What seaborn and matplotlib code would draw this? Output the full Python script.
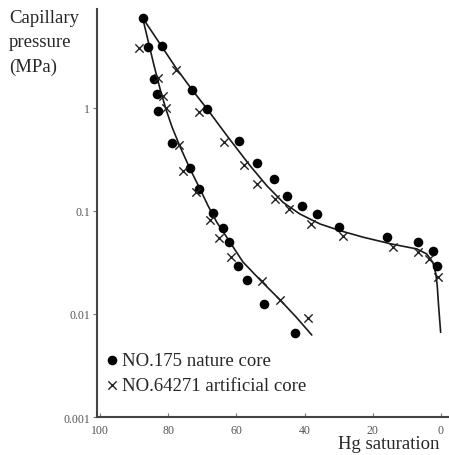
import numpy as np
import pandas as pd
import matplotlib
matplotlib.use("Agg")
import matplotlib.pyplot as plt
from matplotlib.ticker import NullLocator, FixedLocator
import seaborn as sns

# measured points, NO.175 nature core (filled dots)
nature_sat = [87.5, 85.9, 84.3, 83.2, 82.9, 81.9, 73.1, 68.5, 79.0, 73.6, 70.9, 67.0,
              63.8, 62.3, 59.5, 57.0, 51.8, 42.8, 59.2, 54.1, 48.9, 45.1, 40.8, 36.5,
              29.8, 15.9, 6.8, 2.3, 1.1]
nature_pc = [7.5, 3.9, 1.9, 1.37, 0.93, 4.0, 1.5, 0.98, 0.457, 0.26, 0.164, 0.095,
             0.069, 0.050, 0.029, 0.0215, 0.0125, 0.00654, 0.48, 0.29, 0.205, 0.141, 0.111, 0.094,
             0.0695, 0.0556, 0.0503, 0.041, 0.0295]

# measured points, NO.64271 artificial core (crosses)
artificial_sat = [88.5, 83.1, 81.5, 80.6, 77.7, 70.9, 76.9, 75.8, 71.9, 67.8, 65.2, 61.6,
                  52.6, 47.2, 38.9, 63.6, 57.8, 54.1, 48.7, 44.5, 38.1, 28.8, 14.2, 6.8,
                  3.4, 0.8]
artificial_pc = [3.8, 1.94, 1.32, 0.99, 2.34, 0.92, 0.44, 0.243, 0.152, 0.082, 0.055, 0.036,
                 0.021, 0.0138, 0.0091, 0.47, 0.28, 0.183, 0.131, 0.105, 0.075, 0.0576, 0.045, 0.040,
                 0.034, 0.0227]

# hand-fitted curves
lower_sat = [87.5, 85.9, 84.2, 82.4, 80.7, 78.9, 76.5, 73.6, 70.7, 68.3, 65.8, 62.5,
             58.1, 52.5, 47.2, 42.5, 37.9]
lower_pc = [7.48, 4.47, 2.61, 1.53, 0.978, 0.654, 0.418, 0.256, 0.164, 0.112, 0.0782, 0.0535,
            0.032, 0.0205, 0.0137, 0.00935, 0.00625]
upper_sat = [87.5, 82.4, 77.7, 73.0, 68.6, 62.5, 56.0, 51.1, 46.3, 41.4, 35.5, 29.6,
             22.8, 14.5, 7.1, 4.2, 2.4, 1.5, 1.1, 0.7, 0.1]
upper_pc = [7.48, 4.18, 2.44, 1.50, 0.978, 0.523, 0.275, 0.176, 0.121, 0.0935, 0.0748, 0.0644,
            0.0556, 0.0478, 0.0428, 0.0383, 0.0318, 0.0245, 0.0188, 0.0120, 0.00664]

y_ticks = [1, 0.1, 0.01, 0.001]
y_tick_labels = ["1", "0.1", "0.01", "0.001"]
x_ticks = [100, 80, 60, 40, 20, 0]
x_tick_labels = ["100", "80", "60", "40", "20", "0"]

sns.set_style("ticks")
plt.rcParams["font.family"] = ["Liberation Serif", "DejaVu Serif"]

fig = plt.figure(figsize=(4.49, 4.56), dpi=100)
ax = fig.add_axes([0.216, 0.0833, 0.784, 0.895])
ax.set_yscale("log")

line_kw = dict(sort=False, estimator=None, color="#1a1a1a", linewidth=1.2, ax=ax, legend=False)
sns.lineplot(x=lower_sat, y=lower_pc, **line_kw)
sns.lineplot(x=upper_sat, y=upper_pc, **line_kw)

sns.scatterplot(x=nature_sat, y=nature_pc, ax=ax, marker="o", s=48, color="black",
                edgecolor="black", linewidth=0, label="NO.175 nature core", zorder=3)
sns.scatterplot(x=artificial_sat, y=artificial_pc, ax=ax, marker="x", s=36, color="#222222",
                linewidth=1.0, label="NO.64271 artificial core", zorder=3)

ax.set_xlim(100.9, -2.35)
ax.set_ylim(0.001, 9.15)

ax.yaxis.set_major_locator(FixedLocator(y_ticks))
ax.yaxis.set_minor_locator(NullLocator())
ax.set_yticklabels(y_tick_labels)
ax.set_xticks(x_ticks)
ax.set_xticklabels(x_tick_labels)

ax.tick_params(axis="y", direction="out", length=3, width=0.8, pad=2,
               color="#777777", labelcolor="#555555", labelsize=8.5)
ax.tick_params(axis="x", direction="in", length=3, width=0.8, pad=5,
               color="#777777", labelcolor="#555555", labelsize=8.5)

for side in ["top", "right"]:
    ax.spines[side].set_visible(False)
for side in ["left", "bottom"]:
    ax.spines[side].set_color("#444444")
    ax.spines[side].set_linewidth(1.5)

ax.set_xlabel("")
ax.set_ylabel("")

leg = ax.legend(loc="upper left", bbox_to_anchor=(107 / 449, 1 - 353 / 456),
                bbox_transform=fig.transFigure, frameon=False, fontsize=13.5,
                handlelength=0.5, handletextpad=0.3, labelspacing=0.42,
                borderpad=0, borderaxespad=0)

fig.text(9 / 449, 1 - 10 / 456, "Capillary\npressure\n(MPa)", ha="left", va="top",
         fontsize=13.5, linespacing=1.55)
fig.text(440 / 449, 1 - 445 / 456, "Hg saturation", ha="right", va="center", fontsize=13.5)

fig.savefig("out.png", dpi=100)
